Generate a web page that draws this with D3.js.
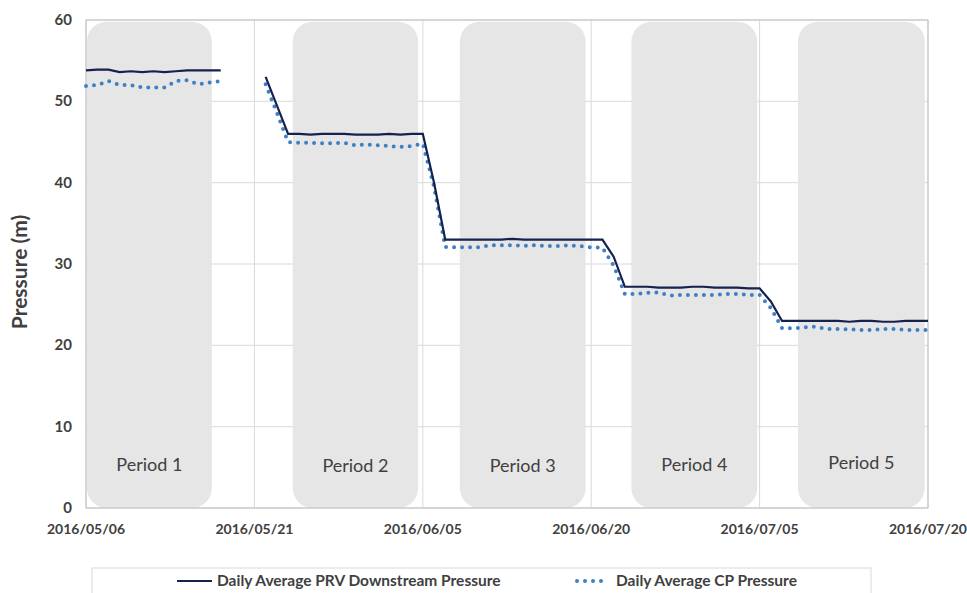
<!DOCTYPE html>
<html>
<head>
<meta charset="utf-8">
<script src="https://d3js.org/d3.v7.min.js"></script>
<style>
	body { margin: 0; background: #ffffff; }
	text { font-family: Lato, "Open Sans", sans-serif; fill: #404040; }
</style>
</head>
<body>
<script>
// daily values, 2016/05/06 .. 2016/07/20 (null = no data)
var START_DATE = "2016/05/06";
var prvPressure = [
	53.8, 53.9, 53.9, 53.6, 53.7, 53.6, 53.7, 53.6, 53.7, 53.8, 53.8, 53.8, 53.8,
	null, null, null,
	53.0, 49.5,
	46.0, 46.0, 45.9, 46.0, 46.0, 46.0, 45.9, 45.9, 45.9, 46.0, 45.9, 46.0, 46.0,
	40.0, 33.0,
	33.0, 33.0, 33.0, 33.0, 33.0, 33.1, 33.0, 33.0, 33.0, 33.0, 33.0, 33.0, 33.0, 33.0,
	30.9, 27.2,
	27.2, 27.2, 27.1, 27.1, 27.1, 27.2, 27.2, 27.1, 27.1, 27.1, 27.0, 27.0,
	25.4, 23.0,
	23.0, 23.0, 23.0, 23.0, 23.0, 22.9, 23.0, 23.0, 22.9, 22.9, 23.0, 23.0, 23.0
];
var cpPressure = [
	51.9, 52.0, 52.5, 52.0, 52.0, 51.7, 51.7, 51.7, 52.5, 52.6, 52.1, 52.3, 52.5,
	null, null, null,
	52.1, 48.6,
	45.0, 44.9, 44.9, 44.85, 44.85, 44.9, 44.6, 44.7, 44.6, 44.5, 44.4, 44.5, 44.8,
	39.5, 32.1,
	32.05, 32.05, 32.05, 32.3, 32.3, 32.3, 32.25, 32.3, 32.2, 32.2, 32.3, 32.2, 32.05, 32.0,
	29.8, 26.3,
	26.3, 26.45, 26.5, 26.1, 26.2, 26.2, 26.2, 26.2, 26.3, 26.3, 26.2, 26.2,
	24.6, 22.1,
	22.1, 22.2, 22.3, 22.0, 22.0, 21.95, 21.9, 21.9, 22.0, 22.0, 21.9, 21.9, 21.9
];

var xTickLabels = ["2016/05/06", "2016/05/21", "2016/06/05", "2016/06/20", "2016/07/05", "2016/07/20"];
var yTicks = [0, 10, 20, 30, 40, 50, 60];

var periodNames = ["Period 1", "Period 2", "Period 3", "Period 4", "Period 5"];
var periodStart = ["2016/05/06 02:00", "2016/05/24 10:00", "2016/06/08 07:00", "2016/06/23 14:00", "2016/07/08 10:00"];
var periodEnd = ["2016/05/17 05:00", "2016/06/04 14:00", "2016/06/19 12:00", "2016/07/04 19:00", "2016/07/19 17:00"];

var seriesNames = ["Daily Average PRV Downstream Pressure", "Daily Average CP Pressure"];

var parseDay = d3.timeParse("%Y/%m/%d");
var parseHour = d3.timeParse("%Y/%m/%d %H:%M");

var width = 967, height = 593;
var margin = { top: 20, right: 39, bottom: 85, left: 86 };
var w = width - margin.left - margin.right;
var h = height - margin.top - margin.bottom;

var svg = d3.select("body").append("svg")
	.attr("width", width)
	.attr("height", height);

var x = d3.scaleTime()
	.domain([parseDay(xTickLabels[0]), parseDay(xTickLabels[xTickLabels.length - 1])])
	.range([0, w]);
var y = d3.scaleLinear().domain([0, 60]).range([h, 0]);

var g = svg.append("g").attr("transform", "translate(" + margin.left + "," + margin.top + ")");

var days = prvPressure.map(function(v, i) { return d3.timeDay.offset(parseDay(START_DATE), i); });

// grid
g.append("g").selectAll("line.h")
	.data(yTicks)
	.enter().append("line")
	.attr("x1", 0).attr("x2", w)
	.attr("y1", function(d) { return y(d); })
	.attr("y2", function(d) { return y(d); })
	.attr("stroke", "#d9d9d9");

g.append("g").selectAll("line.v")
	.data(xTickLabels)
	.enter().append("line")
	.attr("x1", function(d) { return x(parseDay(d)); })
	.attr("x2", function(d) { return x(parseDay(d)); })
	.attr("y1", 0).attr("y2", h)
	.attr("stroke", "#d9d9d9");

// period boxes
var periods = periodNames.map(function(n, i) {
	return { name: n, start: parseHour(periodStart[i]), end: parseHour(periodEnd[i]) };
});

g.append("g").selectAll("path")
	.data(periods)
	.enter().append("path")
	.attr("fill", "#e6e6e6")
	.attr("d", function(d) {
		var x0 = x(d.start), x1 = x(d.end), y0 = y(59.8), y1 = y(0), r = 20;
		var p = d3.path();
		p.moveTo(x0, y0 + r);
		p.arcTo(x0, y0, x0 + r, y0, r);
		p.lineTo(x1 - r, y0);
		p.arcTo(x1, y0, x1, y0 + r, r);
		p.lineTo(x1, y1 - r);
		p.arcTo(x1, y1, x1 - r, y1, r);
		p.lineTo(x0 + r, y1);
		p.arcTo(x0, y1, x0, y1 - r, r);
		p.closePath();
		return p.toString();
	});

var periodLabelY = [4.6, 4.4, 4.4, 4.6, 4.8];
g.append("g").selectAll("text")
	.data(periods)
	.enter().append("text")
	.attr("x", function(d) { return (x(d.start) + x(d.end)) / 2; })
	.attr("y", function(d, i) { return y(periodLabelY[i]); })
	.attr("text-anchor", "middle")
	.attr("font-size", 18)
	.attr("fill", "#3a3a3a")
	.text(function(d) { return d.name; });

// frame
g.append("rect")
	.attr("width", w).attr("height", h)
	.attr("fill", "none")
	.attr("stroke", "#bfbfbf");

// series
var line = d3.line()
	.defined(function(d) { return d.v !== null; })
	.x(function(d) { return x(d.date); })
	.y(function(d) { return y(d.v); });

var cpData = days.map(function(d, i) { return { date: d, v: cpPressure[i] }; });
var prvData = days.map(function(d, i) { return { date: d, v: prvPressure[i] }; });

g.append("path")
	.datum(cpData)
	.attr("d", line)
	.attr("fill", "none")
	.attr("stroke", "#3f7fc6")
	.attr("stroke-width", 4)
	.attr("stroke-linecap", "round")
	.attr("stroke-dasharray", "0,8");

g.append("path")
	.datum(prvData)
	.attr("d", line)
	.attr("fill", "none")
	.attr("stroke", "#15214f")
	.attr("stroke-width", 2.2);

// axes labels
g.append("g").selectAll("text")
	.data(yTicks)
	.enter().append("text")
	.attr("x", -14)
	.attr("y", function(d) { return y(d) + 5; })
	.attr("text-anchor", "end")
	.attr("font-size", 15)
	.attr("font-weight", "bold")
	.text(function(d) { return d; });

g.append("g").selectAll("text")
	.data(xTickLabels)
	.enter().append("text")
	.attr("x", function(d) { return x(parseDay(d)); })
	.attr("y", h + 26)
	.attr("text-anchor", "middle")
	.attr("font-size", 14)
	.attr("font-weight", "bold")
	.text(function(d) { return d; });

svg.append("text")
	.attr("transform", "translate(27," + (margin.top + h / 2 + 8) + ") rotate(-90)")
	.attr("text-anchor", "middle")
	.attr("font-size", 21)
	.attr("font-weight", "bold")
	.text("Pressure (m)");

// legend
var legend = svg.append("g");
legend.append("rect")
	.attr("x", 92).attr("y", 568)
	.attr("width", 779).attr("height", 40)
	.attr("fill", "#ffffff")
	.attr("stroke", "#d9d9d9");

legend.append("line")
	.attr("x1", 177).attr("x2", 212)
	.attr("y1", 581).attr("y2", 581)
	.attr("stroke", "#15214f")
	.attr("stroke-width", 2.2);
legend.append("text")
	.attr("x", 217).attr("y", 586)
	.attr("font-size", 15.5)
	.attr("font-weight", "bold")
	.text(seriesNames[0]);

legend.append("line")
	.attr("x1", 577).attr("x2", 606)
	.attr("y1", 581).attr("y2", 581)
	.attr("stroke", "#3f7fc6")
	.attr("stroke-width", 4)
	.attr("stroke-linecap", "round")
	.attr("stroke-dasharray", "0,8");
legend.append("text")
	.attr("x", 616).attr("y", 586)
	.attr("font-size", 15.5)
	.attr("font-weight", "bold")
	.text(seriesNames[1]);
</script>
</body>
</html>
